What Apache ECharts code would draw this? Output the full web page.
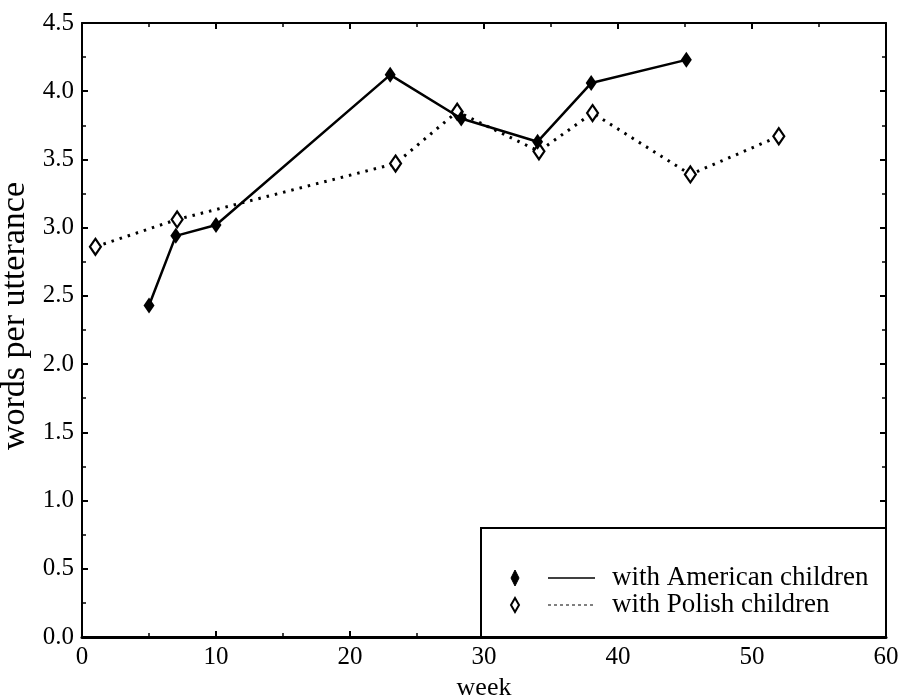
<!DOCTYPE html>
<html><head><meta charset="utf-8">
<script src="https://cdn.jsdelivr.net/npm/echarts@6/dist/echarts.min.js"></script>
<style>html,body{margin:0;padding:0;background:#fff}#c{width:901px;height:698px}</style>
</head><body><div id="c"></div>
<script>
const americanWeeks = [5, 7, 10, 23, 28.3, 34, 38, 45.1];
const americanValues = [2.43, 2.94, 3.02, 4.12, 3.80, 3.63, 4.06, 4.23];
const polishWeeks = [1, 7.1, 23.4, 28, 34.1, 38.1, 45.4, 52];
const polishValues = [2.86, 3.06, 3.47, 3.85, 3.56, 3.84, 3.39, 3.67];
const seriesNames = ['with American children', 'with Polish children'];
const xTitle = 'week';
const yTitle = 'words per utterance';

const FONT = '"Liberation Serif", "DejaVu Serif", serif';
const chart = echarts.init(document.getElementById('c'), null, {renderer: 'canvas'});
function axisCommon(w) {
  return {
    axisLine: {show: true, onZero: false, lineStyle: {color: '#000', width: w}},
    axisTick: {show: true, inside: true, length: 6, lineStyle: {color: '#000', width: 2}},
    minorTick: {show: true, splitNumber: 2, length: 4, lineStyle: {color: '#000', width: 1.5}},
    splitLine: {show: false}
  };
}
const labelStyle = {color: '#000', fontFamily: FONT, fontSize: 25};
chart.setOption({
  animation: false,
  backgroundColor: '#fff',
  grid: {left: 82, right: 15, top: 23, bottom: 61, containLabel: false, outerBoundsMode: 'none'},
  xAxis: [
    Object.assign({type: 'value', position: 'bottom', min: 0, max: 60, interval: 10,
      name: xTitle, nameLocation: 'middle', nameGap: 38,
      nameTextStyle: {color: '#000', fontFamily: FONT, fontSize: 26},
      axisLabel: Object.assign({margin: 8}, labelStyle)}, axisCommon(3)),
    Object.assign({type: 'value', position: 'top', min: 0, max: 60, interval: 10,
      axisLabel: {show: false}}, axisCommon(2))
  ],
  yAxis: [
    Object.assign({type: 'value', position: 'left', min: 0, max: 4.5, interval: 0.5,
      name: yTitle, nameLocation: 'middle', nameGap: 43,
      nameTextStyle: {color: '#000', fontFamily: FONT, fontSize: 34, padding: [0, 0, 0, 28]},
      axisLabel: Object.assign({margin: 8, formatter: v => v.toFixed(1)}, labelStyle)}, axisCommon(2)),
    Object.assign({type: 'value', position: 'right', min: 0, max: 4.5, interval: 0.5,
      axisLabel: {show: false}}, axisCommon(2))
  ],
  series: [
    {name: seriesNames[0], type: 'line',
      data: americanWeeks.map((w, i) => [w, americanValues[i]]),
      symbol: 'diamond', symbolSize: [11, 16],
      itemStyle: {color: '#000'},
      lineStyle: {color: '#000', width: 2.5, type: 'solid'}, z: 3},
    {name: seriesNames[1], type: 'line',
      data: polishWeeks.map((w, i) => [w, polishValues[i]]),
      symbol: 'diamond', symbolSize: [11, 16],
      itemStyle: {color: '#fff', borderColor: '#000', borderWidth: 2.2},
      lineStyle: {color: '#000', width: 3, type: [2.5, 6]}, z: 2}
  ],
  graphic: [
    {type: 'rect', shape: {x: 481, y: 528, width: 405, height: 109},
      style: {fill: '#fff', stroke: '#000', lineWidth: 2}, z: 10},
    {type: 'polygon', shape: {points: [[515, 570], [519, 578], [515, 586], [511, 578]]},
      style: {fill: '#000', stroke: '#000', lineWidth: 1}, z: 11},
    {type: 'line', shape: {x1: 548, y1: 578, x2: 595, y2: 578},
      style: {stroke: '#000', lineWidth: 1.5}, z: 11},
    {type: 'text', x: 612, y: 578, style: {text: seriesNames[0], font: '27px ' + FONT,
      fill: '#000', verticalAlign: 'middle'}, z: 11},
    {type: 'polygon', shape: {points: [[515, 598], [519, 605], [515, 612], [511, 605]]},
      style: {fill: '#fff', stroke: '#000', lineWidth: 2}, z: 11},
    {type: 'line', shape: {x1: 548, y1: 605, x2: 595, y2: 605},
      style: {stroke: '#000', lineWidth: 1, lineDash: [3, 3]}, z: 11},
    {type: 'text', x: 612, y: 605, style: {text: seriesNames[1], font: '27px ' + FONT,
      fill: '#000', verticalAlign: 'middle'}, z: 11}
  ]
});
</script></body></html>
